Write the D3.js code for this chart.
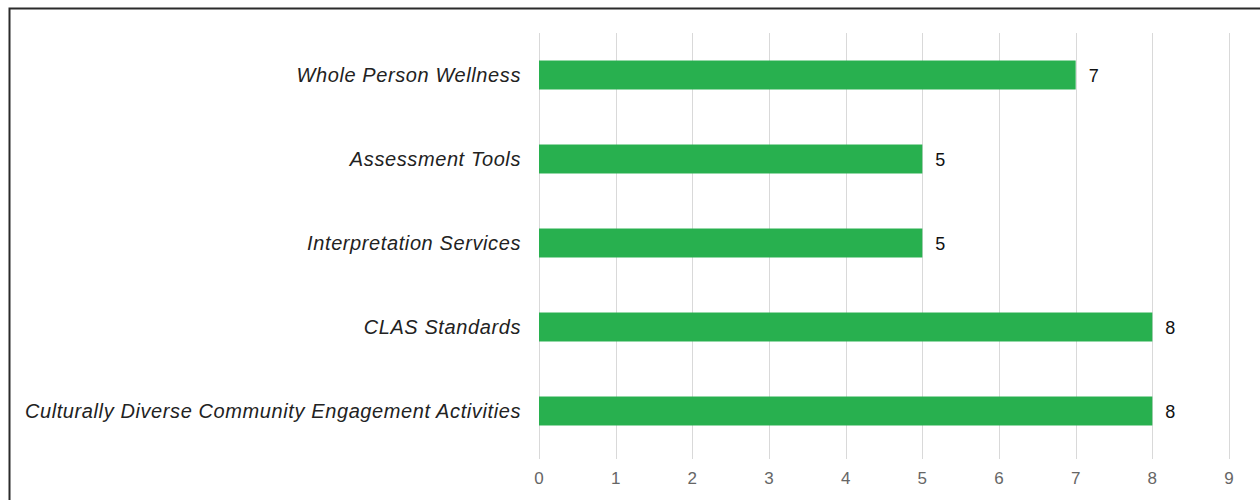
<!DOCTYPE html>
<html>
<head>
<meta charset="utf-8">
<script src="https://cdn.jsdelivr.net/npm/d3@7"></script>
<style>
  body { margin: 0; background: #fff; }
  svg { display: block; font-family: "Liberation Sans", Arial, sans-serif; }
  .grid line { stroke: #d9d9d9; stroke-width: 1; }
  .catLabel { font-style: italic; font-size: 20px; letter-spacing: 0.6px; fill: #222; }
  .valLabel { font-size: 18px; fill: #111; }
  .tickLabel { font-size: 17px; fill: #666; }
</style>
</head>
<body>
<div id="chart"></div>
<script>
// data
const categories = [
    "Whole Person Wellness",
    "Assessment Tools",
    "Interpretation Services",
    "CLAS Standards",
    "Culturally Diverse Community Engagement Activities"
];
const values = [7, 5, 5, 8, 8];
const ticks = [0, 1, 2, 3, 4, 5, 6, 7, 8, 9];

const width = 1260, height = 500;
const margin = {top: 33, right: 31, bottom: 47, left: 539};

let svg = d3.select("#chart").append("svg")
    .attr("width", width)
    .attr("height", height);

// outer frame, right and bottom edges run off the picture
svg.append("rect")
    .attr("x", 9.5)
    .attr("y", 8.5)
    .attr("width", 1400)
    .attr("height", 700)
    .attr("fill", "none")
    .attr("stroke", "#2b2b2b")
    .attr("stroke-width", 2);

let xScale = d3.scaleLinear()
    .domain([0, 9])
    .range([margin.left, width - margin.right]);

let yScale = d3.scaleBand()
    .domain(categories)
    .range([margin.top, height - margin.bottom])
    .paddingInner(0.655)
    .paddingOuter(0.3275);

//vertical gridlines
svg.append("g").attr("class", "grid")
    .selectAll("line")
    .data(ticks)
    .enter().append("line")
    .attr("x1", d => Math.round(xScale(d)) + 0.5)
    .attr("x2", d => Math.round(xScale(d)) + 0.5)
    .attr("y1", margin.top)
    .attr("y2", height - margin.bottom + 6);

//bars
svg.append("g")
    .selectAll("rect")
    .data(values)
    .enter().append("rect")
    .attr("x", xScale(0))
    .attr("y", (d, i) => yScale(categories[i]))
    .attr("width", d => xScale(d) - xScale(0))
    .attr("height", yScale.bandwidth())
    .attr("fill", "#28b04f");

//value labels
svg.append("g")
    .selectAll("text")
    .data(values)
    .enter().append("text")
    .attr("class", "valLabel")
    .attr("x", d => xScale(d) + 13)
    .attr("y", (d, i) => yScale(categories[i]) + yScale.bandwidth() / 2 + 1)
    .attr("dy", "0.36em")
    .text(d => d);

//category labels
svg.append("g")
    .selectAll("text")
    .data(categories)
    .enter().append("text")
    .attr("class", "catLabel")
    .attr("x", margin.left - 18)
    .attr("y", d => yScale(d) + yScale.bandwidth() / 2)
    .attr("dy", "0.36em")
    .attr("text-anchor", "end")
    .text(d => d);

//tick labels
svg.append("g")
    .selectAll("text")
    .data(ticks)
    .enter().append("text")
    .attr("class", "tickLabel")
    .attr("x", d => xScale(d))
    .attr("y", 478)
    .attr("dy", "0.36em")
    .attr("text-anchor", "middle")
    .text(d => d);
</script>
</body>
</html>
